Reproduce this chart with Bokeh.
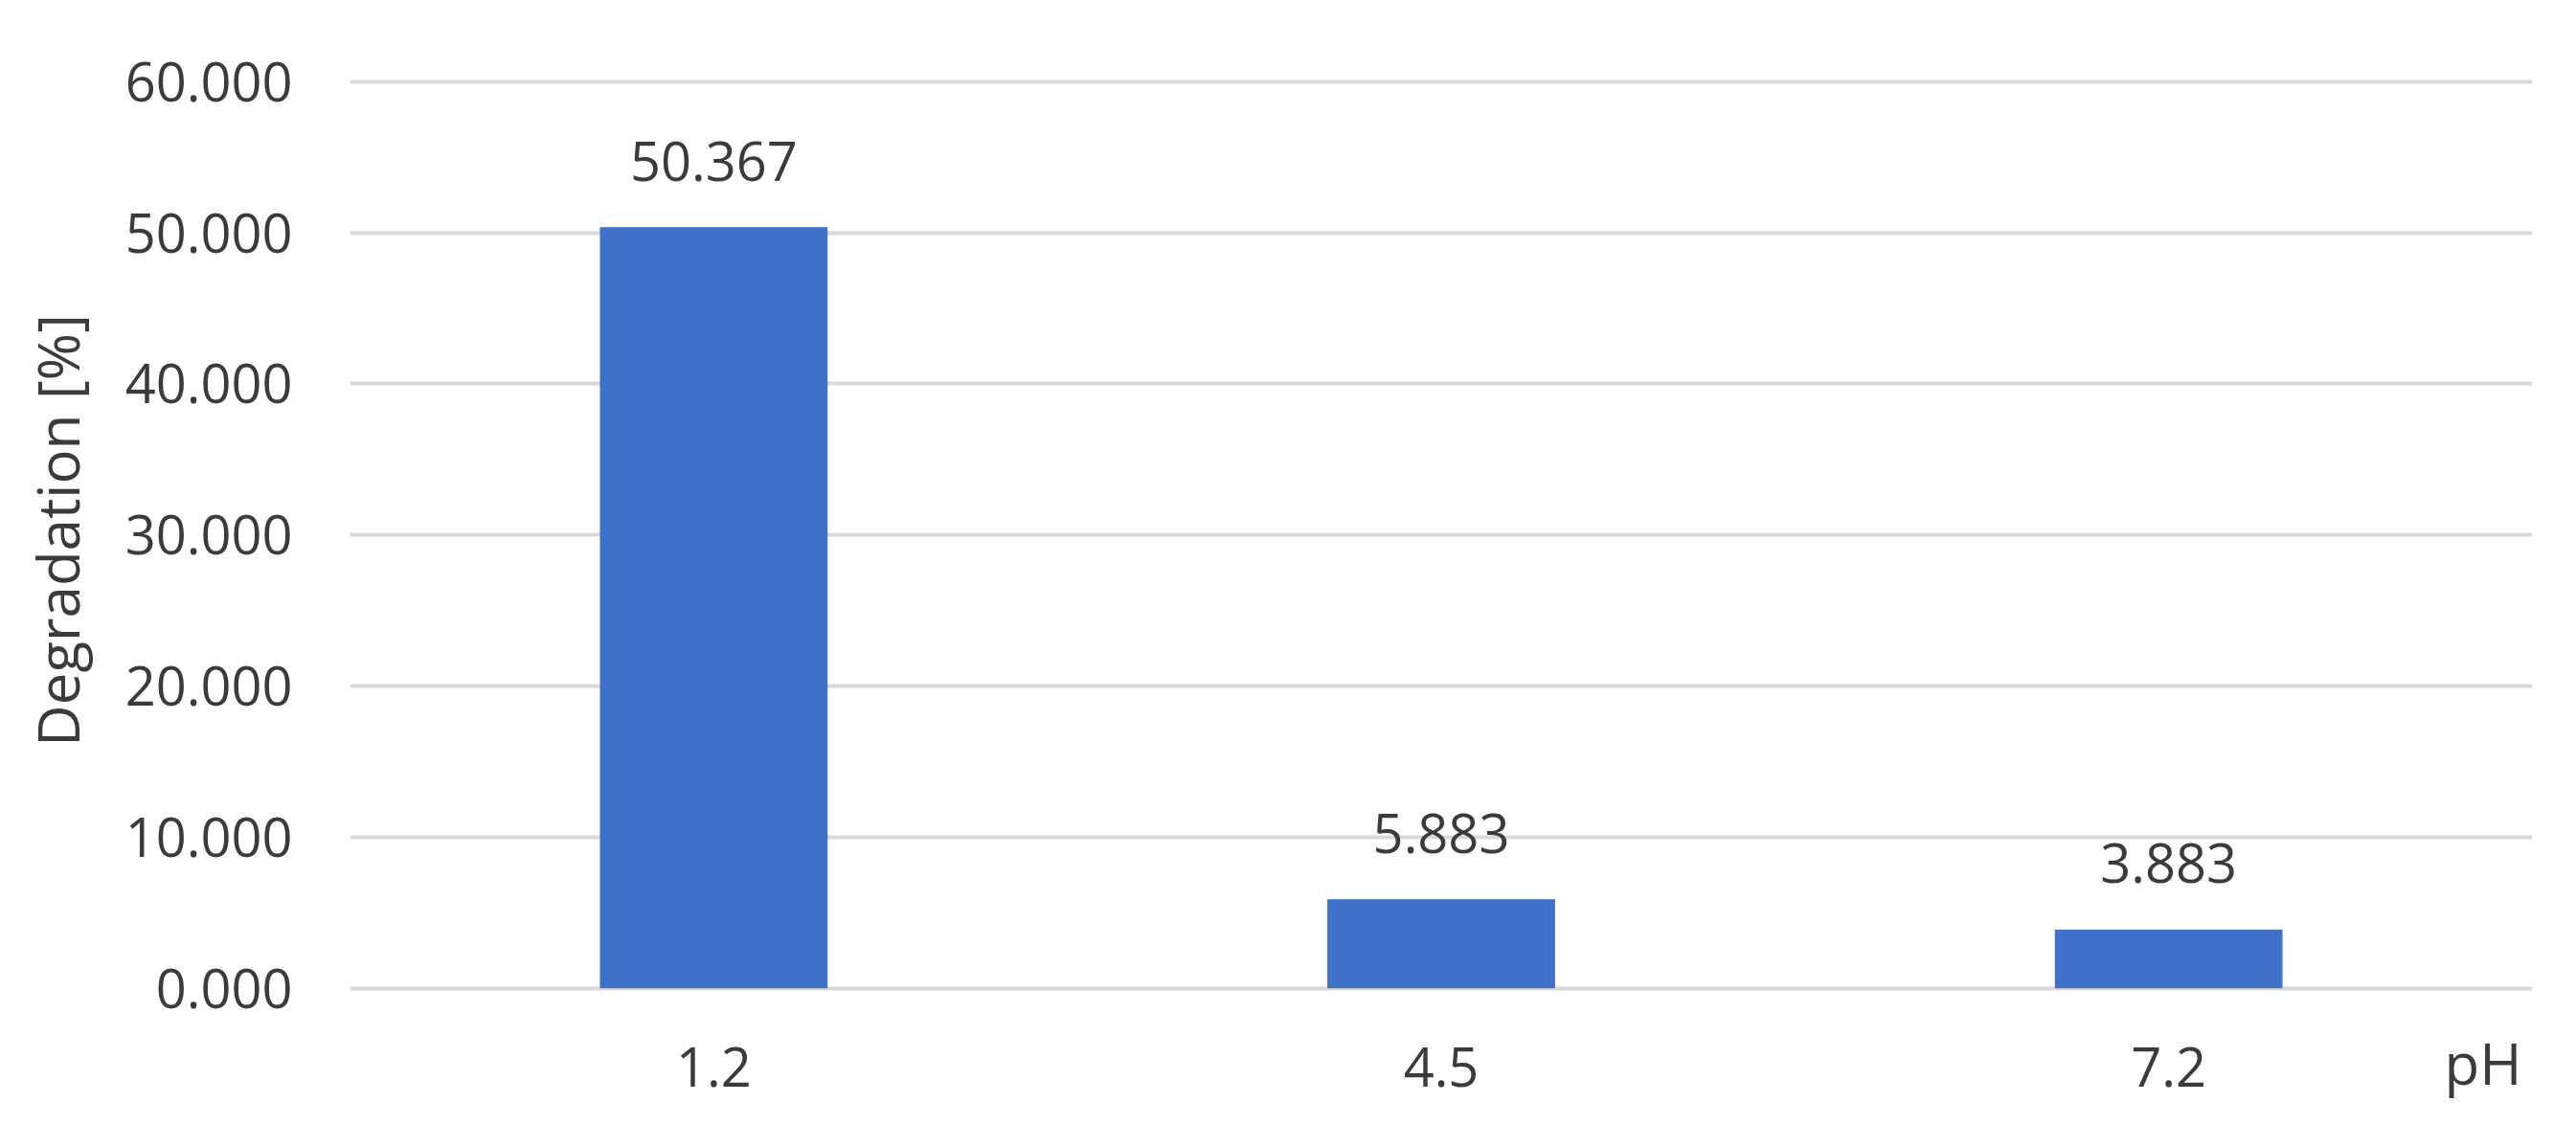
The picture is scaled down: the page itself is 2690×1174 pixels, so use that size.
from bokeh.plotting import figure
from bokeh.models import FactorRange, Range1d, FixedTicker, NumeralTickFormatter, ColumnDataSource
from bokeh.core.properties import value
from bokeh.embed import file_html
from bokeh.resources import INLINE

# ---- data ----
categories = ["1.2", "4.5", "7.2"]
degradation = [50.367, 5.883, 3.883]
y_ticks = [0, 10, 20, 30, 40, 50, 60]
y_title = "Degradation [%]"
x_title = "pH"

FONT = "Open Sans"
TXT = "#3b3b3b"
BAR = "#4170c8"

labels = [f"{v:.3f}" for v in degradation]
src = ColumnDataSource(dict(cat=categories, val=degradation, lab=labels))

p = figure(
    x_range=FactorRange(factors=categories, range_padding=0),
    y_range=Range1d(-0.4, 61),
    width=2682, height=1158,
    output_backend="svg", toolbar_location=None,
    min_border_left=365, min_border_right=38,
    min_border_top=69, min_border_bottom=120,
)
p.outline_line_color = None
p.background_fill_color = "white"
p.border_fill_color = "white"

p.vbar(x="cat", top="val", bottom=0, width=0.313, source=src,
       fill_color=BAR, line_color=None)

p.text(x="cat", y="val", text="lab", source=src,
       text_font=value(FONT), text_font_size="56px", text_color=TXT,
       text_align="center", text_baseline="alphabetic", y_offset=-69)

# y axis
p.yaxis.ticker = FixedTicker(ticks=y_ticks)
p.yaxis.formatter = NumeralTickFormatter(format="0.000")
p.yaxis.axis_line_color = None
p.yaxis.major_tick_line_color = None
p.yaxis.minor_tick_line_color = None
p.yaxis.major_tick_in = 0
p.yaxis.major_tick_out = 0
p.yaxis.major_label_standoff = 60
p.yaxis.major_label_text_font = FONT
p.yaxis.major_label_text_font_size = "56px"
p.yaxis.major_label_text_color = TXT
p.yaxis.axis_label = y_title
p.yaxis.axis_label_text_font = FONT
p.yaxis.axis_label_text_font_size = "60px"
p.yaxis.axis_label_text_font_style = "normal"
p.yaxis.axis_label_text_color = TXT
p.yaxis.axis_label_standoff = 27

# x axis
p.xaxis.axis_line_color = None
p.xaxis.major_tick_line_color = None
p.xaxis.minor_tick_line_color = None
p.xaxis.major_tick_in = 0
p.xaxis.major_tick_out = 0
p.xaxis.major_label_standoff = 55
p.xaxis.major_label_text_font = FONT
p.xaxis.major_label_text_font_size = "56px"
p.xaxis.major_label_text_color = TXT
# axis title sits at the right end of the axis, on the tick-label row
p.xaxis.axis_label = x_title + "\u2007" * 3
p.xaxis.axis_label_align = "end"
p.xaxis.axis_label_standoff = -69
p.xaxis.axis_label_text_font = FONT
p.xaxis.axis_label_text_font_size = "60px"
p.xaxis.axis_label_text_font_style = "normal"
p.xaxis.axis_label_text_color = TXT

p.xgrid.grid_line_color = None
p.ygrid.ticker = FixedTicker(ticks=y_ticks)
p.ygrid.grid_line_color = "#d9d9d9"
p.ygrid.grid_line_width = 4

open("out.html", "w").write(file_html(p, INLINE))
